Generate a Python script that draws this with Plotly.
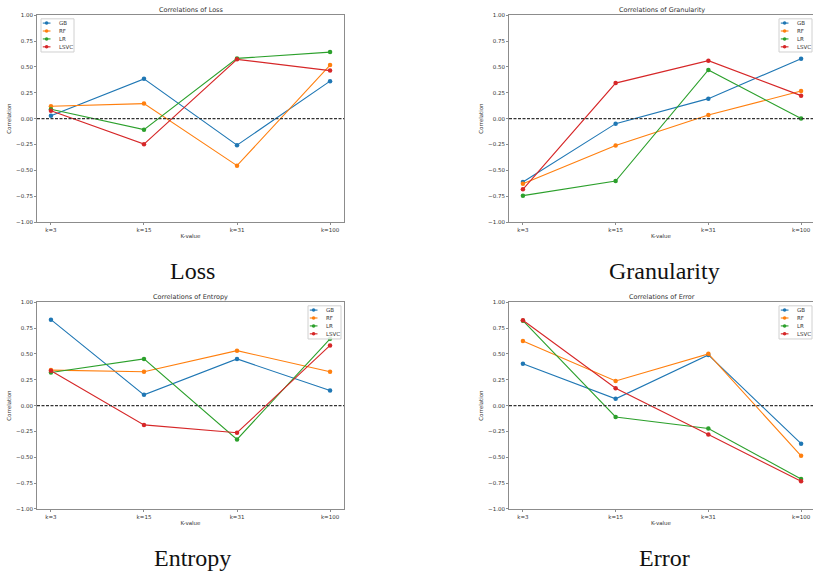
import plotly.graph_objects as go

W, H = 813, 578

k_labels = ["k=3", "k=15", "k=31", "k=100"]
models = ["GB", "RF", "LR", "LSVC"]
colors = ["#1f77b4", "#ff7f0e", "#2ca02c", "#d62728"]

loss_GB = [0.027, 0.384, -0.257, 0.362]
loss_RF = [0.120, 0.145, -0.455, 0.518]
loss_LR = [0.091, -0.107, 0.582, 0.643]
loss_LSVC = [0.075, -0.247, 0.573, 0.464]

gran_GB = [-0.614, -0.049, 0.193, 0.579]
gran_RF = [-0.630, -0.260, 0.034, 0.266]
gran_LR = [-0.745, -0.604, 0.470, 0.000]
gran_LSVC = [-0.684, 0.343, 0.560, 0.222]

ent_GB = [0.831, 0.104, 0.451, 0.145]
ent_RF = [0.343, 0.327, 0.531, 0.327]
ent_LR = [0.320, 0.451, -0.327, 0.646]
ent_LSVC = [0.336, -0.187, -0.263, 0.582]

err_GB = [0.404, 0.065, 0.490, -0.368]
err_RF = [0.624, 0.238, 0.500, -0.486]
err_LR = [0.821, -0.110, -0.222, -0.710]
err_LSVC = [0.825, 0.167, -0.279, -0.732]

titles = ["Loss", "Granularity", "Entropy", "Error"]
panel_data = [
    [loss_GB, loss_RF, loss_LR, loss_LSVC],
    [gran_GB, gran_RF, gran_LR, gran_LSVC],
    [ent_GB, ent_RF, ent_LR, ent_LSVC],
    [err_GB, err_RF, err_LR, err_LSVC],
]
y_ticks = [-1.0, -0.75, -0.5, -0.25, 0.0, 0.25, 0.5, 0.75, 1.0]
y_ticktext = ["\u22121.00", "\u22120.75", "\u22120.50", "\u22120.25", "0.00", "0.25", "0.50", "0.75", "1.00"]

# panel pixel boxes: left, right(virtual), top, bottom
boxes = [
    (37, 344, 12.3, 221.3),
    (509, 815, 12.3, 221.3),
    (37, 344, 302.3, 511.3),
    (509, 815, 302.3, 511.3),
]
legend_pos = ["left", "right", "right", "right"]

FONT = "DejaVu Sans"
TXT = "#333333"
SPINE = "#8c8c8c"

fig = go.Figure()
layout = dict(width=W, height=H, margin=dict(l=0, r=0, t=0, b=0),
              plot_bgcolor="white", paper_bgcolor="white", showlegend=False,
              font=dict(family=FONT, size=6, color=TXT))
shapes = []
annotations = []

xs = [0, 1, 2, 3]

for i in range(4):
    L, R, T, B = boxes[i]
    ax = "" if i == 0 else str(i + 1)
    unit = (R - L) / 3.3
    x0 = L
    x1 = min(R, W)
    xmax = -0.15 + (x1 - L) / unit
    clipped = R > W
    layout["xaxis" + ax] = dict(
        domain=[x0 / W, x1 / W], anchor="y" + ax, range=[-0.15, xmax],
        tickmode="array", tickvals=xs, ticktext=k_labels,
        ticks="outside", ticklen=2, tickwidth=0.8, tickcolor=SPINE,
        showline=True, linecolor=SPINE, linewidth=1, mirror=True,
        showgrid=False, zeroline=False, tickfont=dict(size=5.5, color=TXT),
        title=dict(text="K-value", font=dict(size=5.5, color=TXT), standoff=2),
    )
    layout["yaxis" + ax] = dict(
        domain=[1 - B / H, 1 - T / H], anchor="x" + ax, range=[-1.0, 1.0],
        tickmode="array", tickvals=y_ticks, ticktext=y_ticktext,
        ticks="outside", ticklen=2, tickwidth=0.8, tickcolor=SPINE,
        showline=True, linecolor=SPINE, linewidth=1, mirror=not clipped,
        showgrid=False, zeroline=False, tickfont=dict(size=5.5, color=TXT),
        title=dict(text="Correlation", font=dict(size=5.5, color=TXT), standoff=4),
    )
    for j, m in enumerate(models):
        fig.add_trace(go.Scatter(
            x=xs, y=panel_data[i][j], mode="lines+markers", name=m,
            xaxis="x" + ax, yaxis="y" + ax,
            line=dict(color=colors[j], width=1.1),
            marker=dict(color=colors[j], size=4.5),
        ))
    # dashed zero line
    shapes.append(dict(type="line", xref="x" + ax + " domain", yref="y" + ax,
                       x0=0, x1=1, y0=0, y1=0,
                       line=dict(color="#333333", width=1.1, dash="3px,1.5px")))
    # subplot title
    cx = (L + R) / 2
    annotations.append(dict(text="Correlations of " + titles[i], x=cx / W, y=1 - (T - 5.5) / H,
                            xref="paper", yref="paper", showarrow=False,
                            xanchor="center", yanchor="middle",
                            font=dict(size=6.5, color=TXT)))
    # caption
    annotations.append(dict(text=titles[i], x=(cx + 2) / W, y=1 - (B + 49.5) / H,
                            xref="paper", yref="paper", showarrow=False,
                            xanchor="center", yanchor="middle",
                            font=dict(family="Liberation Serif", size=24, color="#111111")))
    # legend box
    lw, lh = 33, 33.5
    if legend_pos[i] == "left":
        lx0 = L + 4
    else:
        lx0 = min(R, W + 2) - 3 - lw
    ly0 = T + 3.7
    shapes.append(dict(type="rect", xref="paper", yref="paper",
                       x0=lx0 / W, x1=(lx0 + lw) / W,
                       y0=1 - ly0 / H, y1=1 - (ly0 + lh) / H,
                       line=dict(color="#d0d0d0", width=1), fillcolor="rgba(255,255,255,0.85)",
                       layer="above"))
    for j, m in enumerate(models):
        yy = ly0 + 4.3 + j * 8.0
        shapes.append(dict(type="line", xref="paper", yref="paper",
                           x0=(lx0 + 1.8) / W, x1=(lx0 + 9.5) / W,
                           y0=1 - yy / H, y1=1 - yy / H,
                           line=dict(color=colors[j], width=1.1), layer="above"))
        r = 1.8
        cxm = lx0 + 5.6
        shapes.append(dict(type="circle", xref="paper", yref="paper",
                           x0=(cxm - r) / W, x1=(cxm + r) / W,
                           y0=1 - (yy - r) / H, y1=1 - (yy + r) / H,
                           line=dict(width=0), fillcolor=colors[j], layer="above"))
        annotations.append(dict(text=m, x=(lx0 + 16) / W, y=1 - yy / H,
                                xref="paper", yref="paper", showarrow=False,
                                xanchor="left", yanchor="middle",
                                font=dict(size=5.5, color=TXT)))

layout["shapes"] = shapes
layout["annotations"] = annotations
fig.update_layout(**layout)
fig.write_html("out.html")
